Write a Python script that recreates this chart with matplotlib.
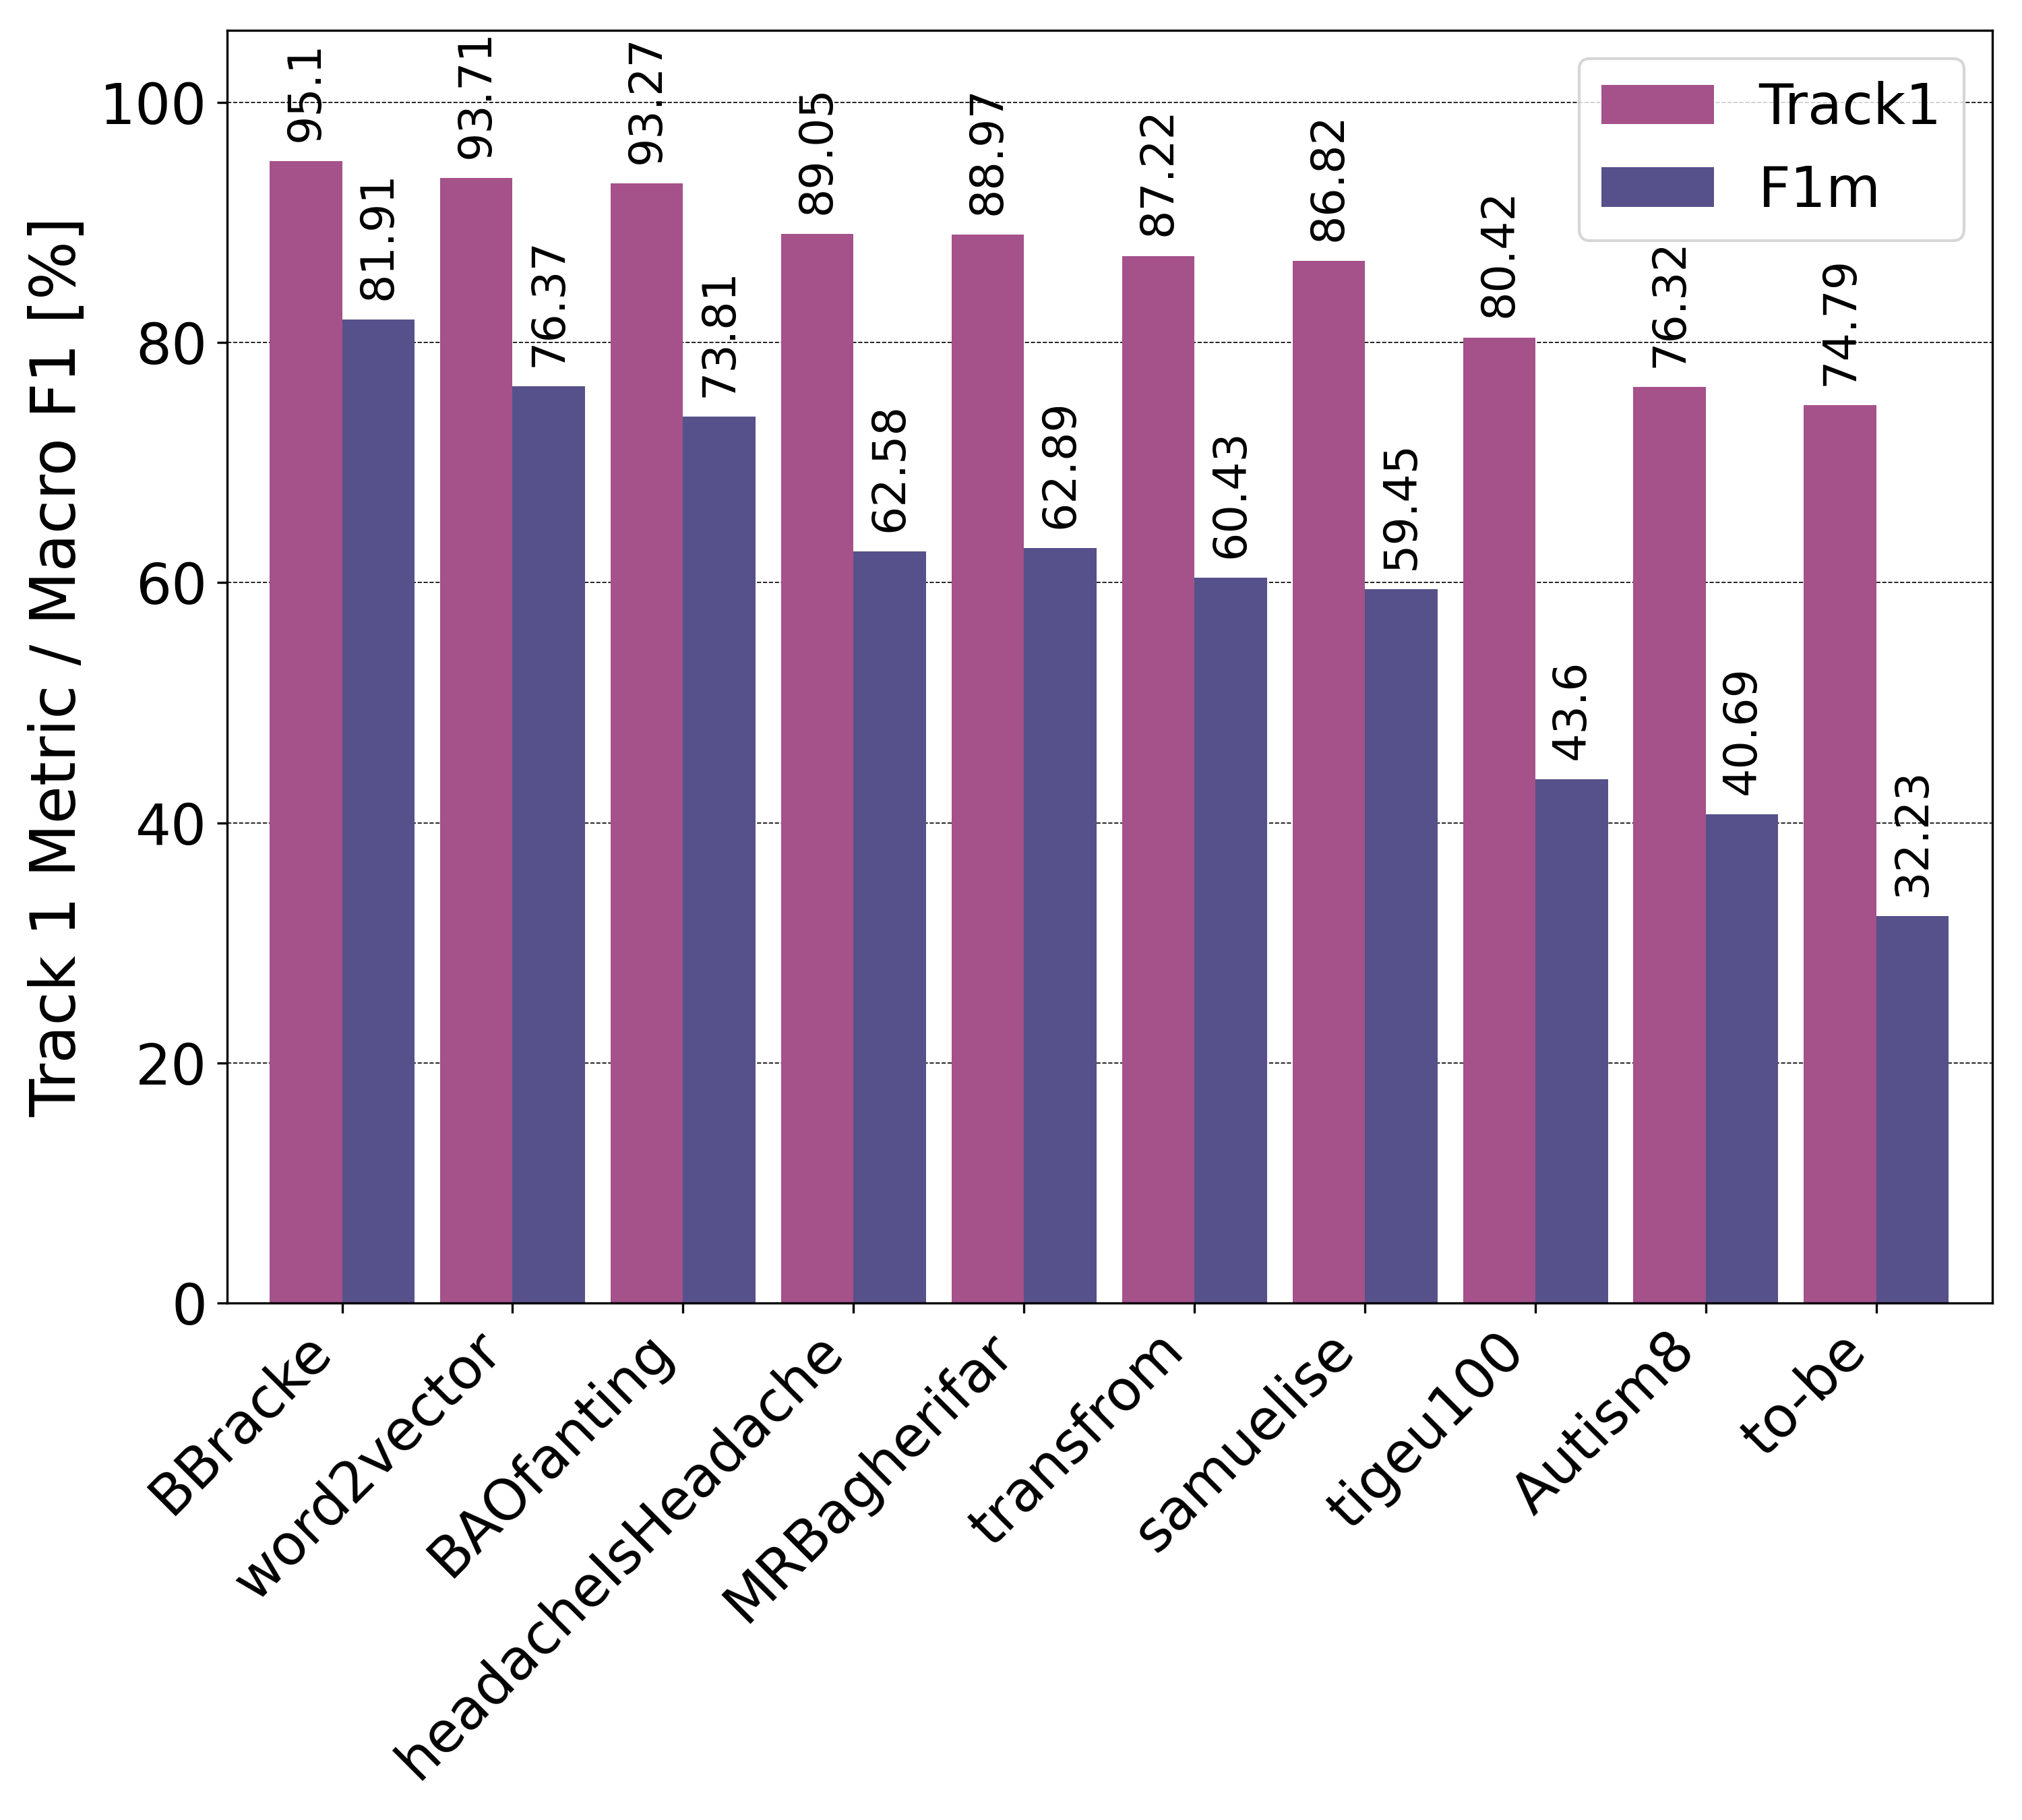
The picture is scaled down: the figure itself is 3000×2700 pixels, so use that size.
import numpy as np
import matplotlib
matplotlib.use('Agg')
import matplotlib.pyplot as plt

teams = ['BBracke', 'word2vector', 'BAOfanting', 'headacheIsHeadache', 'MRBagherifar',
         'transfrom', 'samuelise', 'tigeu100', 'Autism8', 'to-be']
track1 = [95.1, 93.71, 93.27, 89.05, 88.97, 87.22, 86.82, 80.42, 76.32, 74.79]
f1m = [81.91, 76.37, 73.81, 62.58, 62.89, 60.43, 59.45, 43.6, 40.69, 32.23]

ind = np.arange(len(teams))
width = 0.425

fig = plt.figure(figsize=(10, 9), dpi=300)
ax = fig.add_axes([0.1122, 0.2841, 0.873, 0.6992])

r1 = ax.bar(ind - width / 2, track1, width, color='#a5518a', label='Track1', zorder=2)
r2 = ax.bar(ind + width / 2, f1m, width, color='#56518a', label='F1m', zorder=2)

# value labels, rotated, above each bar
ax.bar_label(r1, labels=[str(v) for v in track1], rotation=90, padding=7, fontsize=16)
ax.bar_label(r2, labels=[str(v) for v in f1m], rotation=90, padding=7, fontsize=16)

ax.set_xlim(-0.676, 9.679)
ax.set_ylim(0, 106)
ax.yaxis.grid(True, linestyle='--', color='black', linewidth=0.4, zorder=0)
ax.set_axisbelow(True)

ax.set_xticks(ind)
ax.set_xticklabels(teams, rotation=45, ha='right', fontsize=20)
ax.tick_params(axis='y', labelsize=20)
ax.set_ylabel('Track 1 Metric / Macro F1 [%]', fontsize=22)
ax.legend(loc='upper right', fontsize=20)

fig.savefig('out.png', dpi=300)
